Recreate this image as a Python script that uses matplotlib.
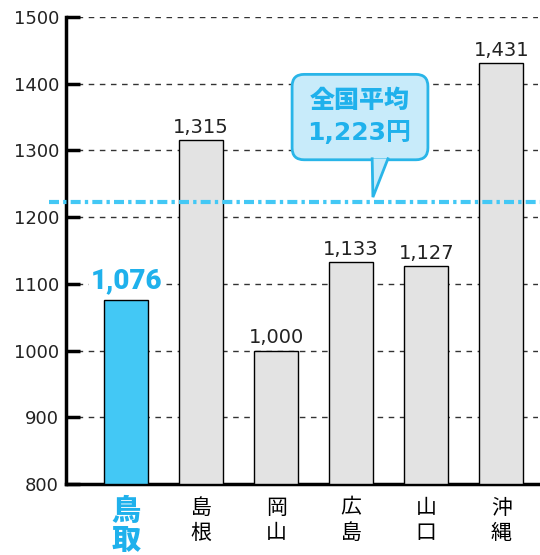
import matplotlib
matplotlib.use("Agg")
import numpy as np
from matplotlib import pyplot as plt
from matplotlib.patches import FancyBboxPatch, Polygon

plt.rcParams['font.family'] = ['Noto Sans CJK JP', 'DejaVu Sans']

#############################################################
# Data
#############################################################
prefs = ["鳥取", "島根", "岡山", "広島", "山口", "沖縄"]
values = [1076, 1315, 1000, 1133, 1127, 1431]
average = 1223
yticks = [800, 900, 1000, 1100, 1200, 1300, 1400, 1500]

BLUE = "#43c8f5"
BLUE_TXT = "#1fb1ec"
GRAY = "#e3e3e3"
BOX_FILL = "#c8ebfa"
BOX_EDGE = "#29b5e8"

#############################################################
# Plot
#############################################################
fig = plt.figure(figsize=(5.4, 5.55), dpi=100)
ax = fig.add_axes([66/540, 71/555, 472/540, 467/555])

x = np.arange(len(prefs))
colors = [BLUE] + [GRAY]*(len(prefs)-1)
ax.bar(x, [v - 800 for v in values], bottom=800, width=0.59, color=colors,
       edgecolor="black", linewidth=1.0, zorder=3)

ax.set_xlim(-0.8, 5.49)
ax.set_ylim(800, 1500)
ax.set_yticks(yticks)
ax.set_yticklabels([str(t) for t in yticks], fontsize=13, color="#222222",
                   family="DejaVu Sans")
ax.yaxis.grid(True, linestyle=(0, (4, 4)), color="#333333", linewidth=1.0, zorder=1)
ax.tick_params(axis="y", direction="in", length=10, width=2.5, pad=5)
ax.tick_params(axis="x", length=0)
ax.set_xticks([])
for s in ["top", "right"]:
    ax.spines[s].set_visible(False)
ax.spines["left"].set_linewidth(2.5)
ax.spines["bottom"].set_linewidth(2.5)

# value labels
for i, v in enumerate(values):
    if i == 0:
        ax.text(i, v + 9, f"{v:,}", ha="center", va="bottom", fontsize=20,
                fontweight="black", color=BLUE_TXT, family="Roboto", zorder=4,
                bbox=dict(boxstyle="square,pad=0.05", facecolor="white", edgecolor="none"))
    else:
        ax.text(i, v + 5, f"{v:,}", ha="center", va="bottom", fontsize=14,
                color="#222222", family="DejaVu Sans", zorder=4)

# category labels (vertical, two characters)
for i, p in enumerate(prefs):
    txt = "\n".join(p)
    if i == 0:
        ax.text(i, 782, txt, ha="center", va="top", fontsize=21, fontweight="black",
                color=BLUE_TXT, linespacing=1.0, clip_on=False)
    else:
        ax.text(i, 781, txt, ha="center", va="top", fontsize=15,
                color="black", linespacing=1.2, clip_on=False)

# average line
ax.plot([-1.02, 5.55], [average, average], color=BLUE, linewidth=3,
        linestyle=(0, (2.4, 1.0, 0.8, 1.0)), clip_on=False, zorder=5)

# callout
box = FancyBboxPatch((2.213, 1286), 1.81, 128, boxstyle="round,pad=0,rounding_size=0.16",
                     mutation_aspect=112, facecolor=BOX_FILL, edgecolor=BOX_EDGE,
                     linewidth=2, zorder=6)
ax.add_patch(box)
tail = Polygon([[3.28, 1287.5], [3.49, 1287.5], [3.29, 1230]], closed=False,
               facecolor=BOX_FILL, edgecolor="none", zorder=7)
ax.add_patch(tail)
ax.plot([3.28, 3.29, 3.49], [1287.5, 1230, 1287.5], color=BOX_EDGE, linewidth=2,
        zorder=7, solid_joinstyle="miter")
ax.text(3.11, 1376, "全国平均", ha="center", va="center", fontsize=18,
        fontweight="black", color=BLUE_TXT, zorder=8)
ax.text(3.11, 1326, "1,223円", ha="center", va="center", fontsize=18,
        fontweight="bold", color=BLUE_TXT, family=["DejaVu Sans", "Noto Sans CJK JP"],
        zorder=8)

fig.savefig("out.png", dpi=100)
